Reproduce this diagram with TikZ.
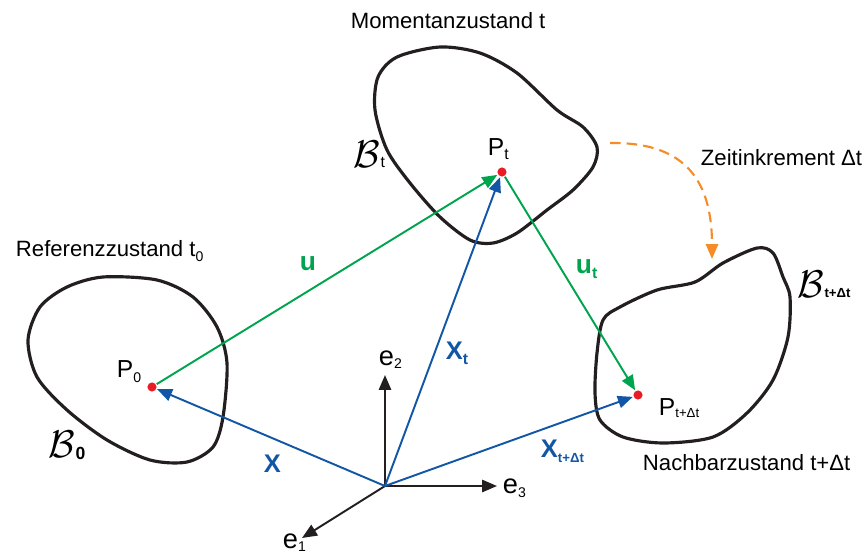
\RequirePackage{fix-cm}
\documentclass[tikz,border=0pt]{standalone}
\usepackage{fontspec}
\setmainfont{Liberation Sans}
\usetikzlibrary{arrows.meta}
\definecolor{vecblue}{RGB}{18,86,166}
\definecolor{vecgreen}{RGB}{0,163,78}
\definecolor{dotred}{RGB}{232,28,36}
\definecolor{incorange}{RGB}{245,140,40}
\definecolor{linegray}{RGB}{35,31,32}
\newcommand{\lowidx}[3][8]{\raisebox{#2}{\fontsize{#1}{#1}\selectfont #3}}

\begin{document}
\begin{tikzpicture}[x=0.02cm, y=-0.02cm, line width=1.1pt,
  body/.style={line width=1.8pt, draw=linegray},
  axis/.style={draw=linegray, -{Triangle[length=8.5pt, width=7pt]}},
  posvec/.style={draw=vecblue, -{Triangle[length=8.5pt, width=7pt]}},
  dispvec/.style={draw=vecgreen, -{Triangle[length=8.5pt, width=7pt]}},
  matpoint/.style={circle, fill=dotred, inner sep=0pt, minimum size=5.2pt},
  statetxt/.style={anchor=base west, inner sep=0pt, font=\fontsize{12.6}{15}\selectfont},
  ptlabel/.style={anchor=base west, inner sep=0pt, font=\fontsize{14}{16}\selectfont},
  bodylabel/.style={anchor=base west, inner sep=0pt, font=\fontsize{22}{24}\selectfont},
  poslabel/.style={anchor=base west, inner sep=0pt, text=vecblue, font=\fontsize{14.5}{16}\selectfont\bfseries},
  displabel/.style={anchor=base west, inner sep=0pt, text=vecgreen, font=\fontsize{15}{17}\selectfont\bfseries},
  elabel/.style={anchor=base west, inner sep=0pt, font=\fontsize{15.5}{17}\selectfont}]
  \useasboundingbox (0,0) rectangle (866,555);

  \draw[body] plot[smooth cycle] coordinates {(103,277) (157,280) (193,297) (217,327) (227,363) (223,417) (213,447) (187,462) (150,460) (107,440) (67,410) (37,377) (28,340) (40,307) (67,287)};
  \draw[body] plot[smooth cycle] coordinates {(440,47) (480,53) (517,73) (557,110) (583,127) (597,147) (593,167) (573,190) (547,210) (517,233) (493,243) (470,240) (440,217) (410,183) (387,150) (375,110) (378,77) (397,57)};
  \draw[body] plot[smooth cycle] coordinates {(695,282) (723,263) (757,248) (773,253) (783,277) (790,297) (788,337) (773,380) (747,413) (713,437) (663,443) (623,437) (600,420) (595,393) (597,353) (603,320) (620,307) (657,290)};

  \node[statetxt] (reftxt) at (15,256) {Referenzzustand t\lowidx{-3.4pt}{0}};
  \node[statetxt] (momtxt) at (350,28) {Momentanzustand t};
  \node[statetxt] (inctxt) at (700,165) {Zeitinkrement Δt};
  \node[statetxt] (nbtxt) at (642,470) {Nachbarzustand t+Δt};

  \node[bodylabel] (lblB0) at (48,457) {$\mathcal{B}$\lowidx[10]{-1.7pt}{\bfseries 0}};
  \node[bodylabel] (lblBt) at (353,167) {$\mathcal{B}$\lowidx[9]{-0.5pt}{t}};
  \node[bodylabel] (lblBdt) at (797,297) {$\mathcal{B}$\lowidx[7.5]{-0.5pt}{\bfseries t+Δt}};

  \node[matpoint] (P0) at (152,387) {};
  \node[matpoint] (Pt) at (502,172) {};
  \node[matpoint] (Pdt) at (638,395) {};
  \node[ptlabel] (lblP0) at (116,377) {P\lowidx{-3.4pt}{0}};
  \node[ptlabel] (lblPt) at (487,155) {P\lowidx[9]{-2.8pt}{t}};
  \node[ptlabel] (lblPdt) at (658,415) {P\lowidx[7.5]{-1.7pt}{t+Δt}};

  \coordinate (O) at (385,486);
  \coordinate (e1end) at (302,538);
  \coordinate (e2end) at (385,375);
  \coordinate (e3end) at (497,486);
  \draw[axis] (O) -- (e1end);
  \draw[axis] (O) -- (e2end);
  \draw[axis] (O) -- (e3end);
  \node[elabel] (lble1) at (282,548) {e\lowidx{-2pt}{1}};
  \node[elabel] (lble2) at (378,365) {e\lowidx{-2pt}{2}};
  \node[elabel] (lble3) at (502,493) {e\lowidx{-2.5pt}{3}};

  \draw[posvec] (O) -- (P0);
  \draw[posvec] (O) -- (Pt);
  \draw[posvec] (O) -- (Pdt);
  \node[poslabel] (lblX) at (263,472) {X};
  \node[poslabel] (lblXt) at (445,359) {X\lowidx[9]{-3pt}{t}};
  \node[poslabel] (lblXdt) at (540,457) {X\lowidx[7.5]{-3.4pt}{t+Δt}};

  \draw[dispvec] (P0) -- (Pt);
  \draw[dispvec] (Pt) -- (Pdt);
  \node[displabel] (lblu) at (299,270) {u};
  \node[displabel] (lblut) at (575,273) {u\lowidx[9]{-3pt}{t}};

  \coordinate (incstart) at (610,143);
  \coordinate (incend) at (712,259);
  \draw[draw=incorange, line width=1.2pt, dash pattern=on 6pt off 3.5pt, -{Triangle[length=8.5pt, width=7pt]}] (incstart) .. controls (680,142) and (712,175) .. (incend);
\end{tikzpicture}
\end{document}
